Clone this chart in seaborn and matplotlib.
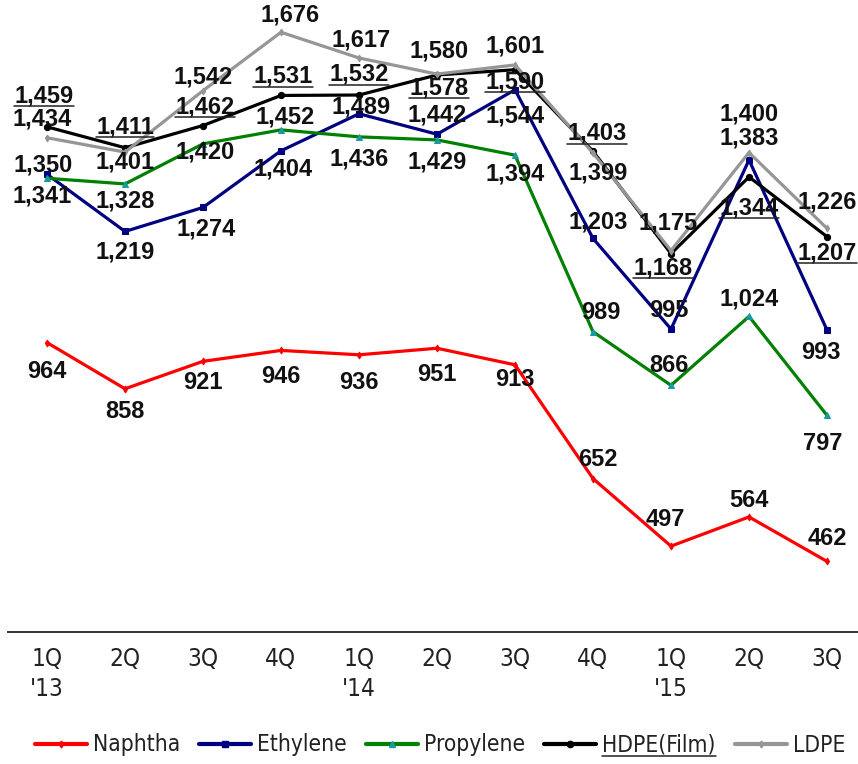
import matplotlib
matplotlib.use("Agg")
import matplotlib.pyplot as plt
import seaborn as sns
import pandas as pd
from matplotlib.lines import Line2D
from matplotlib.transforms import IdentityTransform
from matplotlib import font_manager
from matplotlib.font_manager import FontProperties

# ---------------- data ----------------
quarters = ["1Q\n'13", "2Q", "3Q", "4Q", "1Q\n'14", "2Q", "3Q", "4Q", "1Q\n'15", "2Q", "3Q"]
naphtha = [964, 858, 921, 946, 936, 951, 913, 652, 497, 564, 462]
ethylene = [1350, 1219, 1274, 1404, 1489, 1442, 1544, 1203, 995, 1383, 993]
propylene = [1341, 1328, 1420, 1452, 1436, 1429, 1394, 989, 866, 1024, 797]
hdpe = [1459, 1411, 1462, 1531, 1532, 1578, 1590, 1403, 1168, 1344, 1207]
ldpe = [1434, 1401, 1542, 1676, 1617, 1580, 1601, 1399, 1175, 1400, 1226]
series_names = ["Naphtha", "Ethylene", "Propylene", "HDPE(Film)", "LDPE"]

# ---------------- styles ----------------
colors = {"Naphtha": "#FF0000", "Ethylene": "#000080", "Propylene": "#008000",
          "HDPE(Film)": "#000000", "LDPE": "#969696"}
marker_colors = {"Naphtha": "#FF0000", "Ethylene": "#000080", "Propylene": "#1A9AA0",
                 "HDPE(Film)": "#000000", "LDPE": "#969696"}
markers = {"Naphtha": "d", "Ethylene": "s", "Propylene": "^", "HDPE(Film)": "o", "LDPE": "d"}
msizes = {"Naphtha": 3.5, "Ethylene": 5, "Propylene": 5, "HDPE(Film)": 4.5, "LDPE": 3.5}

# label offsets in pixels (dx right, dy down)
label_dy = {
    "Naphtha":    [29, 23, 21, 26, 28, 26, 15, -19, -27, -16, -23],
    "Ethylene":   [-9, 21, 22, 18, -7, -19, 26, -16, -19, -22, 23],
    "Propylene":  [18, 17, 8, -13, 22, 22, 19, -19, -20, -17, 28],
    "HDPE(Film)": [-31, -21, -19, -19, -21, 13, 12, -18, 14, 31, 16],
    "LDPE":       [-19, 10, -14, -17, -18, -23, -19, 20, -28, -39, -26],
}
label_dx = {
    "Naphtha":    [0, 0, 0, 0, 0, 0, 0, 5, -6, 0, 0],
    "Ethylene":   [-4, 0, 3, 2, 2, 0, 0, 5, -2, 0, -6],
    "Propylene":  [-5, 0, 2, 4, 0, 0, 0, 8, -2, 0, -4],
    "HDPE(Film)": [-3, 0, 2, 2, 0, 2, 0, 4, -8, 0, 0],
    "LDPE":       [-5, 0, 0, 9, 2, 2, 0, 5, -3, 0, 0],
}

values = {"Naphtha": naphtha, "Ethylene": ethylene, "Propylene": propylene,
          "HDPE(Film)": hdpe, "LDPE": ldpe}

rows = []
for name in series_names:
    for i, v in enumerate(values[name]):
        rows.append({"series": name, "pos": i, "value": v})
df = pd.DataFrame(rows)

sns.set_theme(style="white")
ttf = font_manager.fontManager.ttflist
names_installed = {f.name for f in ttf}
labelfont = "Liberation Sans" if "Liberation Sans" in names_installed else "DejaVu Sans"
plt.rcParams["font.family"] = ["DejaVu Sans"]

# find a condensed / narrow regular font file
cond_path = None
cands = []
for f in ttf:
    fn = f.fname
    base = fn.split("/")[-1]
    if ("Narrow" in base or "Condensed" in base) and f.weight in (400, "normal", "regular") \
            and f.style == "normal":
        score = 0 if "Liberation" in base else (1 if "DejaVu" in base else 2)
        if "Semi" in base or "Extra" in base or "Ultra" in base:
            score += 5
        cands.append((score, fn))
cands.sort()
if cands:
    cond_path = cands[0][1]


def make_fp(size):
    if cond_path:
        return FontProperties(fname=cond_path, size=size)
    return FontProperties(family="DejaVu Sans", size=size)


W, H = 858, 764
fig = plt.figure(figsize=(W / 100, H / 100), dpi=100)
renderer = fig.canvas.get_renderer()


def width_at(txt, size):
    t = fig.text(0, 0, txt, fontproperties=make_fp(size))
    w = t.get_window_extent(renderer).width
    t.remove()
    return w

# size fonts so that widths match the reference
leg_size = 10 * 87.0 / width_at("Naphtha", 10)
tick_size = 10 * 31.0 / width_at("1Q", 10)
tick_size = min(tick_size, leg_size * 1.15)

ax = fig.add_axes([8 / W, (H - 632) / H, 858 / W, 632 / H])

for name in series_names:
    sub = df[df["series"] == name]
    sns.lineplot(data=sub, x="pos", y="value", ax=ax, color=colors[name],
                 linewidth=2.3, marker=markers[name], markersize=msizes[name],
                 markerfacecolor=marker_colors[name], markeredgecolor=marker_colors[name],
                 legend=False, label=name)

ax.set_xlim(-0.5, 10.5)
ax.set_ylim(300, 1750)
ax.set_xticks(range(len(quarters)))
ax.set_xticklabels(quarters, color="#222222", linespacing=1.3)
for t in ax.get_xticklabels():
    t.set_fontproperties(make_fp(tick_size))
ax.set_yticks([])
ax.set_xlabel("")
ax.set_ylabel("")
ax.tick_params(axis="x", length=0, pad=11)
for s in ["top", "left", "right"]:
    ax.spines[s].set_visible(False)
ax.spines["bottom"].set_color("#333333")
ax.spines["bottom"].set_linewidth(1.4)

hdpe_texts = []
for name in series_names:
    for i, v in enumerate(values[name]):
        t = ax.annotate(f"{v:,}", xy=(i, v), xytext=(label_dx[name][i], -label_dy[name][i]),
                        textcoords="offset pixels", ha="center", va="center",
                        fontsize=17, fontweight="bold", color="#111111",
                        family=[labelfont, "DejaVu Sans"], zorder=10)
        if name == "HDPE(Film)":
            hdpe_texts.append(t)

handles = [Line2D([0], [0], color=colors[n], lw=3, marker=markers[n], markersize=msizes[n],
                  markerfacecolor=marker_colors[n], markeredgecolor=marker_colors[n])
           for n in series_names]
em_px = leg_size * 100 / 72.0
leg = fig.legend(handles, series_names, loc="center", bbox_to_anchor=(440 / W, 1 - 745 / H),
                 ncol=5, frameon=False, prop=make_fp(leg_size),
                 handlelength=52 / em_px, handletextpad=6 / em_px,
                 columnspacing=19 / em_px, borderaxespad=0)
for t in leg.get_texts():
    t.set_color("#222222")

fig.canvas.draw()
renderer = fig.canvas.get_renderer()
underline_targets = hdpe_texts + [leg.get_texts()[3]]
for t in underline_targets:
    bb = t.get_window_extent(renderer)
    y = bb.y0 + 1
    fig.add_artist(Line2D([bb.x0, bb.x1], [y, y], transform=IdentityTransform(),
                          color="#222222", lw=1.1))

fig.savefig("out.png", dpi=100)
